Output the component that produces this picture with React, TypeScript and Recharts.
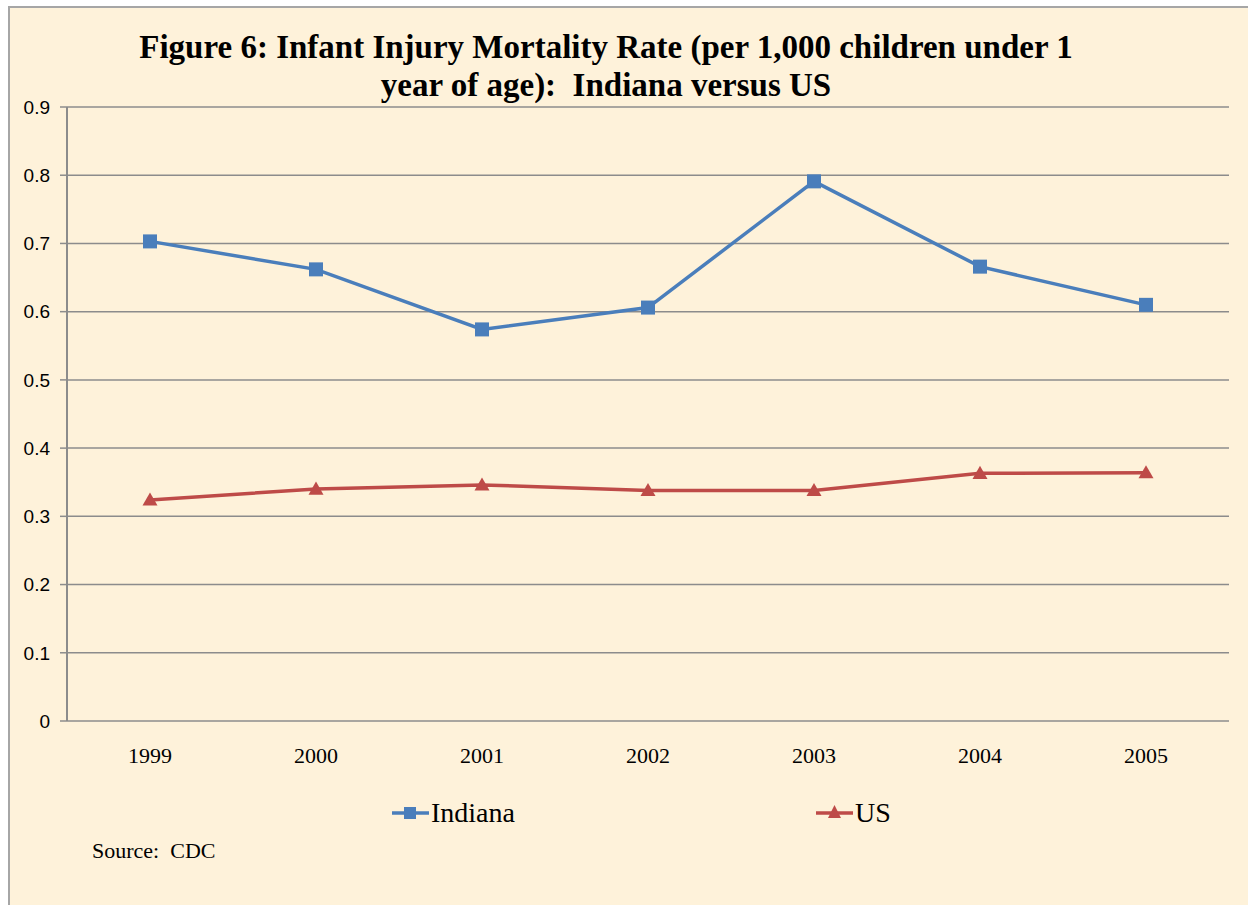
import React from 'react';
import { LineChart, Line, XAxis, YAxis, CartesianGrid, Legend } from 'recharts';

const years = ['1999', '2000', '2001', '2002', '2003', '2004', '2005'];
const indiana = [0.703, 0.662, 0.574, 0.606, 0.791, 0.666, 0.610];
const us = [0.324, 0.340, 0.346, 0.338, 0.338, 0.363, 0.364];
const yTicks = [0, 0.1, 0.2, 0.3, 0.4, 0.5, 0.6, 0.7, 0.8, 0.9];
const edgeTicks = [0, 1, 2, 3, 4, 5, 6, 7];
const seriesNames = ['Indiana', 'US'];

const data = years.map((y, i) => ({ year: y, Indiana: indiana[i], US: us[i] }));

const BLUE = '#4A7EBB';
const RED = '#BE4B48';
const GRID = '#8C8C8C';
const BG = '#FEF2DA';

const Triangle = (props: any) => {
  const { cx, cy, fill } = props;
  if (cx == null || cy == null) return null;
  const s = 7.5;
  return (
    <polygon
      points={`${cx},${cy - s} ${cx + s},${cy + s * 0.75} ${cx - s},${cy + s * 0.75}`}
      fill={fill}
    />
  );
};

const Square = (props: any) => {
  const { cx, cy, fill } = props;
  if (cx == null || cy == null) return null;
  const s = 7;
  return <rect x={cx - s} y={cy - s} width={s * 2} height={s * 2} fill={fill} />;
};

const LegendContent = () => {
  const items = [
    { name: seriesNames[0], color: BLUE, shape: 'square' },
    { name: seriesNames[1], color: RED, shape: 'triangle' },
  ];
  return (
    <div style={{ position: 'relative', width: 1248, height: 40 }}>
      {items.map((it, i) => (
        <div
          key={it.name}
          style={{
            position: 'absolute',
            left: i === 0 ? 391 : 815,
            top: 0,
            display: 'flex',
            alignItems: 'center',
            fontFamily: '"Liberation Serif", "Times New Roman", serif',
            fontSize: 28,
            color: '#000',
          }}
        >
          <svg width={39} height={20} style={{ marginRight: 1 }}>
            <line x1={1} y1={10} x2={38} y2={10} stroke={it.color} strokeWidth={3.5} />
            {it.shape === 'square' ? (
              <rect x={13} y={4} width={12} height={12} fill={it.color} />
            ) : (
              <polygon points="19.5,2 26,15 13,15" fill={it.color} />
            )}
          </svg>
          <span>{it.name}</span>
        </div>
      ))}
    </div>
  );
};

export default function App() {
  return (
    <div style={{ position: 'absolute', left: 0, top: 0, width: 1248, height: 905, overflow: 'hidden', background: '#fff' }}>
      <div
        style={{
          position: 'absolute',
          left: 8,
          top: 6,
          width: 1260,
          height: 920,
          background: BG,
          borderLeft: '2px solid #A6A6A6',
          borderTop: '2px solid #A6A6A6',
        }}
      />
      <div
        style={{
          position: 'absolute',
          left: 0,
          top: 28,
          width: 1212,
          textAlign: 'center',
          fontFamily: '"Liberation Serif", "Times New Roman", serif',
          fontWeight: 'bold',
          fontSize: 33,
          lineHeight: '38px',
          color: '#000',
        }}
      >
        Figure 6: Infant Injury Mortality Rate (per 1,000 children under 1
        <br />
        year of age):&nbsp; Indiana versus US
      </div>
      <div style={{ position: 'absolute', left: 0, top: 0 }}>
        <LineChart
          width={1248}
          height={905}
          data={data}
          margin={{ top: 107, right: 19, left: 0, bottom: 124 }}
        >
          <CartesianGrid vertical={false} stroke={GRID} strokeWidth={1.5} />
          <XAxis
            xAxisId="edges"
            type="number"
            domain={[0, 7]}
            ticks={edgeTicks}
            tickFormatter={() => ''}
            height={0}
            stroke={GRID}
            strokeWidth={2}
            tickSize={6}
            tickLine={{ stroke: GRID, strokeWidth: 1.5 }}
          />
          <XAxis
            dataKey="year"
            scale="band"
            height={60}
            axisLine={false}
            tickLine={false}
            tick={{ fill: '#000', fontSize: 22, fontFamily: '"Liberation Serif", "Times New Roman", serif' }}
            tickMargin={20}
          />
          <YAxis
            domain={[0, 0.9]}
            ticks={yTicks}
            width={67}
            stroke={GRID}
            strokeWidth={2}
            tickSize={7}
            tickLine={{ stroke: GRID, strokeWidth: 1.5 }}
            tickMargin={10}
            tick={{ fill: '#000', fontSize: 19, fontFamily: '"Liberation Sans", Arial, sans-serif' }}
          />
          <Legend
            layout="horizontal"
            verticalAlign="middle"
            align="center"
            wrapperStyle={{ position: 'absolute', left: 0, top: 797, width: 1248 }}
            content={<LegendContent />}
          />
          <Line
            dataKey="Indiana"
            stroke={BLUE}
            strokeWidth={3.5}
            dot={<Square fill={BLUE} />}
            isAnimationActive={false}
          />
          <Line
            dataKey="US"
            stroke={RED}
            strokeWidth={3.5}
            dot={<Triangle fill={RED} />}
            isAnimationActive={false}
          />
        </LineChart>
      </div>
      <div
        style={{
          position: 'absolute',
          left: 92,
          top: 838,
          fontFamily: '"Liberation Serif", "Times New Roman", serif',
          fontSize: 22,
          color: '#000',
          whiteSpace: 'pre',
        }}
      >
        {'Source:  CDC'}
      </div>
    </div>
  );
}
